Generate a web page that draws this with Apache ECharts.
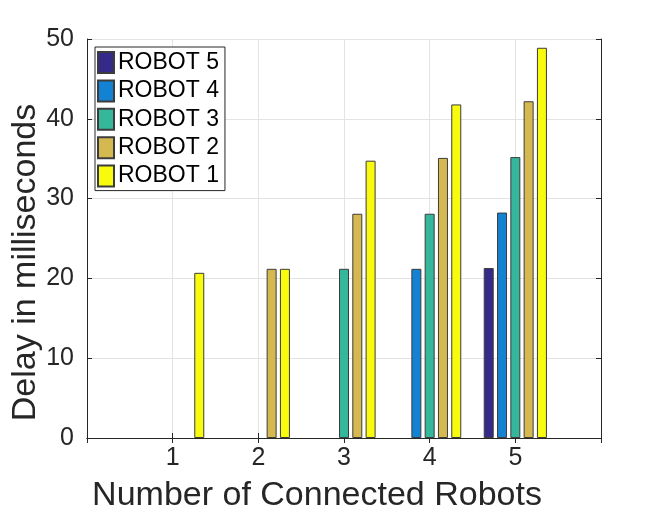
<!DOCTYPE html>
<html>
<head>
<meta charset="utf-8">
<script src="https://cdn.jsdelivr.net/npm/echarts@6/dist/echarts.min.js"></script>
<style>html,body{margin:0;padding:0;background:#fff;}#chart{width:664px;height:517px;}</style>
</head>
<body>
<div id="chart"></div>
<script>
var categories = ['1', '2', '3', '4', '5'];
var seriesNames = ['ROBOT 5', 'ROBOT 4', 'ROBOT 3', 'ROBOT 2', 'ROBOT 1'];
var robot5 = [null, null, null, null, 21.3];
var robot4 = [null, null, null, 21.2, 28.25];
var robot3 = [null, null, 21.2, 28.1, 35.2];
var robot2 = [null, 21.2, 28.1, 35.1, 42.2];
var robot1 = [20.7, 21.2, 34.75, 41.8, 48.9];
var yTicks = [0, 10, 20, 30, 40, 50];

var colors = ['#352a87', '#1482d2', '#35b79c', '#d6b851', '#f9fb0e'];
var values = [robot5, robot4, robot3, robot2, robot1];

// pad with empty slots so the axis spans 0..6 like the original
var axisCats = [''].concat(categories, ['']);
function pad(arr) { return [null].concat(arr, [null]); }

var FONT = '"Liberation Sans", Arial, Helvetica, sans-serif';
var AX = '#262626';

var series = seriesNames.map(function (name, i) {
  return {
    name: name,
    type: 'bar',
    data: pad(values[i]),
    barWidth: 10,
    barGap: '33%',
    itemStyle: { color: colors[i], borderColor: '#3c3c3c', borderWidth: 1 },
    emphasis: { disabled: true }
  };
});

var chart = echarts.init(document.getElementById('chart'), null, { renderer: 'canvas' });
chart.setOption({
  animation: false,
  backgroundColor: '#fff',
  textStyle: { fontFamily: FONT },
  grid: { left: 87, right: 63, top: 39, bottom: 79, containLabel: false, outerBoundsMode: 'none' },
  legend: {
    data: seriesNames,
    icon: 'rect',
    orient: 'vertical',
    left: 95,
    top: 47,
    itemWidth: 16,
    itemHeight: 21,
    itemGap: 5.4,
    padding: [4, 6, 3, 2],
    backgroundColor: '#fff',
    borderColor: AX,
    borderWidth: 1,
    textStyle: { fontFamily: FONT, fontSize: 23, lineHeight: 21, color: '#000', padding: [0, 0, 0, -1] },
    selectedMode: false
  },
  xAxis: [{
    type: 'category',
    data: axisCats,
    boundaryGap: false,
    name: 'Number of Connected Robots',
    nameLocation: 'middle',
    nameGap: 41,
    nameMoveOverlap: false,
    nameTextStyle: { fontFamily: FONT, fontSize: 34, color: AX, padding: [0, 54, 0, 0] },
    axisLine: { show: true, lineStyle: { color: AX, width: 1 } },
    axisTick: { show: true, inside: true, length: 5, lineStyle: { color: AX }, alignWithLabel: true },
    axisLabel: { fontFamily: FONT, fontSize: 25, color: AX, margin: 8 },
    splitLine: { show: true, lineStyle: { color: '#e3e3e3', width: 1 } }
  }, {
    type: 'category',
    data: axisCats,
    boundaryGap: false,
    position: 'top',
    axisLine: { show: true, lineStyle: { color: AX, width: 1 } },
    axisTick: { show: true, inside: true, length: 5, lineStyle: { color: AX } },
    axisLabel: { show: false },
    splitLine: { show: false }
  }],
  yAxis: [{
    type: 'value',
    min: yTicks[0],
    max: yTicks[yTicks.length - 1],
    interval: 10,
    name: 'Delay in milliseconds',
    nameLocation: 'middle',
    nameGap: 44,
    nameMoveOverlap: false,
    nameTextStyle: { fontFamily: FONT, fontSize: 34, color: AX, padding: [0, 48, 0, 0] },
    axisLine: { show: true, lineStyle: { color: AX, width: 1 } },
    axisTick: { show: true, inside: true, length: 5, lineStyle: { color: AX } },
    axisLabel: { fontFamily: FONT, fontSize: 25, color: AX, margin: 13 },
    splitLine: { show: true, lineStyle: { color: '#e3e3e3', width: 1 } }
  }, {
    type: 'value',
    min: yTicks[0],
    max: yTicks[yTicks.length - 1],
    interval: 10,
    position: 'right',
    axisLine: { show: true, lineStyle: { color: AX, width: 1 } },
    axisTick: { show: true, inside: true, length: 5, lineStyle: { color: AX } },
    axisLabel: { show: false },
    splitLine: { show: false }
  }],
  series: series
});
</script>
</body>
</html>
